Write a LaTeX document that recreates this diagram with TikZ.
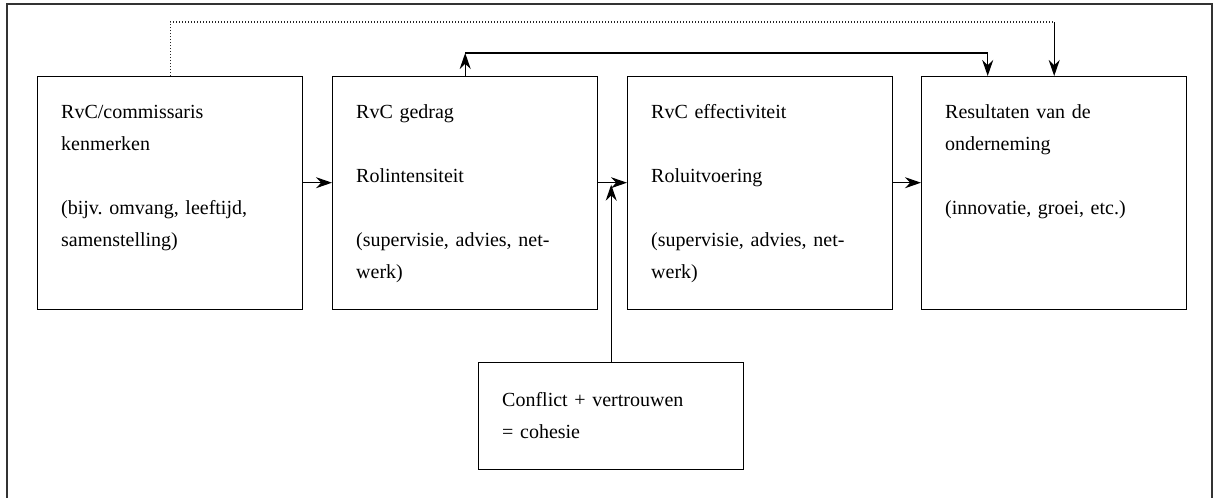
\documentclass[tikz,border=0pt]{standalone}
\usepackage{fontspec}
\setmainfont{Liberation Serif}
\usetikzlibrary{arrows.meta,calc}
\frenchspacing
\begin{document}
\begin{tikzpicture}[x=1pt,y=-1pt,
  box/.style={draw, line width=1.4pt, minimum width=265pt, minimum height=233pt, anchor=north west, inner sep=0pt},
  smallbox/.style={box, minimum height=107pt},
  txt/.style={anchor=base west, inner sep=0pt, text width=245pt, align=left, font=\fontsize{20}{32}\selectfont, text=black},
  arr/.style={-{Stealth[length=16pt,width=11pt]}, line width=1.2pt},
  dot/.style={line width=1.2pt, dash pattern=on 1pt off 2pt, black!85},
  frame/.style={line width=2pt, black!80}]
\useasboundingbox (0,0) rectangle (1219,498);
\draw[frame] (7,498) -- (7,4) -- (1212,4) -- (1212,498);
% boxes
\node[box] (b1) at (37,76) {};
\node[box] (b2) at (332,76) {};
\node[box] (b3) at (627,76) {};
\node[box] (b4) at (921,76) {};
\node[smallbox] (b5) at (478,362) {};
% texts
\node[txt] (t1) at ($(b1.north west)+(24,42)$) {RvC/commissaris\\kenmerken\\[32pt](bijv. omvang, leeftijd,\\samenstelling)};
\node[txt] (t2) at ($(b2.north west)+(24,42)$) {RvC gedrag\\[32pt]Rolintensiteit\\[32pt](supervisie, advies, net-\\werk)};
\node[txt] (t3) at ($(b3.north west)+(24,42)$) {RvC effectiviteit\\[32pt]Roluitvoering\\[32pt](supervisie, advies, net-\\werk)};
\node[txt] (t4) at ($(b4.north west)+(24,42)$) {Resultaten van de\\onderneming\\[32pt](innovatie, groei, etc.)};
\node[txt] (t5) at ($(b5.north west)+(24,44)$) {Conflict + vertrouwen\\= cohesie};
% horizontal arrows
\draw[arr] ([yshift=10.5pt]b1.east) -- ([yshift=10.5pt]b2.west);
\draw[arr] ([yshift=10.5pt]b2.east) -- ([yshift=10.5pt]b3.west);
\draw[arr] ([yshift=10.5pt]b3.east) -- ([yshift=10.5pt]b4.west);
% arrow from bottom box
\draw[arr] (b5.north) -- ([yshift=8.5pt]b2.east -| b5.north);
% solid top connector
\coordinate (solidtop) at ($(b2.north)+(0,-23)$);
\draw[arr] (b2.north) -- (solidtop);
\draw[arr] (solidtop) -| ([xshift=-66.5pt]b4.north);
% dotted top connector
\coordinate (dottop) at ($(b1.north)+(0,-54)$);
\coordinate (dotcorner) at (dottop -| b4.north);
\draw[dot] (b1.north) -- (dottop) -- (dotcorner);
\draw[arr] (dotcorner) -- (b4.north);
\end{tikzpicture}
\end{document}
